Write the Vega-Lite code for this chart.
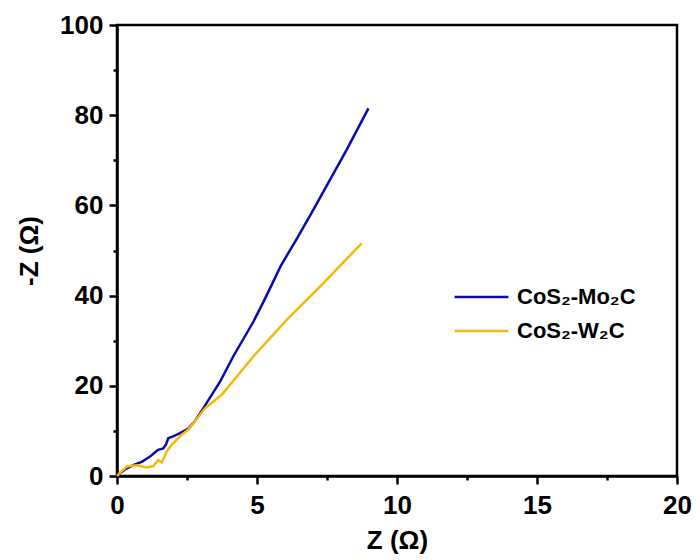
{
  "$schema": "https://vega.github.io/schema/vega-lite/v6.json",
  "width": 560,
  "height": 451,
  "autosize": {"type": "none"},
  "padding": {"left": 117, "top": 25, "right": 23, "bottom": 84},
  "background": "white",
  "config": {
    "font": "Liberation Sans",
    "view": {"stroke": "black", "strokeWidth": 2.5},
    "axis": {
      "domainColor": "black", "domainWidth": 2.5,
      "tickColor": "black", "tickWidth": 2.5,
      "grid": false,
      "labelFont": "Liberation Sans", "labelFontWeight": "bold", "labelFontSize": 26, "labelColor": "black",
      "titleFont": "Liberation Sans", "titleFontWeight": "bold", "titleFontSize": 26, "titleColor": "black"
    }
  },
  "data": {"values": [
    {"s": "CoS₂-Mo₂C", "x": 0.0, "y": 0.0},
    {"s": "CoS₂-Mo₂C", "x": 0.1, "y": 0.6},
    {"s": "CoS₂-Mo₂C", "x": 0.3, "y": 1.5},
    {"s": "CoS₂-Mo₂C", "x": 0.58, "y": 2.4},
    {"s": "CoS₂-Mo₂C", "x": 0.9, "y": 3.2},
    {"s": "CoS₂-Mo₂C", "x": 1.18, "y": 4.3},
    {"s": "CoS₂-Mo₂C", "x": 1.35, "y": 5.2},
    {"s": "CoS₂-Mo₂C", "x": 1.47, "y": 5.8},
    {"s": "CoS₂-Mo₂C", "x": 1.65, "y": 6.1},
    {"s": "CoS₂-Mo₂C", "x": 1.75, "y": 7.0},
    {"s": "CoS₂-Mo₂C", "x": 1.83, "y": 8.4},
    {"s": "CoS₂-Mo₂C", "x": 2.0, "y": 8.8},
    {"s": "CoS₂-Mo₂C", "x": 2.25, "y": 9.5},
    {"s": "CoS₂-Mo₂C", "x": 2.55, "y": 10.5},
    {"s": "CoS₂-Mo₂C", "x": 2.8, "y": 12.3},
    {"s": "CoS₂-Mo₂C", "x": 3.08, "y": 15.0},
    {"s": "CoS₂-Mo₂C", "x": 3.68, "y": 20.9},
    {"s": "CoS₂-Mo₂C", "x": 4.15, "y": 26.5},
    {"s": "CoS₂-Mo₂C", "x": 4.87, "y": 34.2},
    {"s": "CoS₂-Mo₂C", "x": 5.23, "y": 38.6},
    {"s": "CoS₂-Mo₂C", "x": 5.58, "y": 43.1},
    {"s": "CoS₂-Mo₂C", "x": 5.85, "y": 46.6},
    {"s": "CoS₂-Mo₂C", "x": 6.42, "y": 52.6},
    {"s": "CoS₂-Mo₂C", "x": 7.01, "y": 59.0},
    {"s": "CoS₂-Mo₂C", "x": 8.2, "y": 72.3},
    {"s": "CoS₂-Mo₂C", "x": 8.98, "y": 81.5},
    {"s": "CoS₂-W₂C", "x": 0.0, "y": 0.0},
    {"s": "CoS₂-W₂C", "x": 0.15, "y": 1.0},
    {"s": "CoS₂-W₂C", "x": 0.35, "y": 2.1},
    {"s": "CoS₂-W₂C", "x": 0.7, "y": 2.4},
    {"s": "CoS₂-W₂C", "x": 1.06, "y": 1.9},
    {"s": "CoS₂-W₂C", "x": 1.3, "y": 2.2},
    {"s": "CoS₂-W₂C", "x": 1.47, "y": 3.5},
    {"s": "CoS₂-W₂C", "x": 1.6, "y": 3.0},
    {"s": "CoS₂-W₂C", "x": 1.77, "y": 5.4},
    {"s": "CoS₂-W₂C", "x": 1.95, "y": 6.9},
    {"s": "CoS₂-W₂C", "x": 2.3, "y": 9.1},
    {"s": "CoS₂-W₂C", "x": 2.55, "y": 10.3},
    {"s": "CoS₂-W₂C", "x": 3.14, "y": 15.0},
    {"s": "CoS₂-W₂C", "x": 3.74, "y": 18.0},
    {"s": "CoS₂-W₂C", "x": 4.87, "y": 26.5},
    {"s": "CoS₂-W₂C", "x": 6.06, "y": 34.6},
    {"s": "CoS₂-W₂C", "x": 7.25, "y": 42.0},
    {"s": "CoS₂-W₂C", "x": 8.74, "y": 51.6}
  ]},
  "mark": {"type": "line", "strokeWidth": 2.5},
  "encoding": {
    "x": {
      "field": "x", "type": "quantitative",
      "scale": {"domain": [0, 20], "nice": false},
      "axis": {
        "title": "Z (Ω)",
        "values": [0, 2.5, 5, 7.5, 10, 12.5, 15, 17.5, 20],
        "labelExpr": "datum.value % 5 === 0 ? datum.label : ''",
        "tickSize": {"condition": {"test": "datum.value % 5 === 0", "value": 8}, "value": 4},
        "labelPadding": 8,
        "titlePadding": 9,
        "labelFlush": false,
        "labelOverlap": false
      }
    },
    "y": {
      "field": "y", "type": "quantitative",
      "scale": {"domain": [0, 100], "nice": false},
      "axis": {
        "title": "-Z (Ω)",
        "values": [0, 10, 20, 30, 40, 50, 60, 70, 80, 90, 100],
        "labelExpr": "datum.value % 20 === 0 ? datum.label : ''",
        "tickSize": {"condition": {"test": "datum.value % 20 === 0", "value": 8}, "value": 4},
        "labelPadding": 6,
        "titlePadding": 17,
        "labelFlush": false,
        "labelOverlap": false
      }
    },
    "color": {
      "field": "s", "type": "nominal",
      "scale": {"domain": ["CoS₂-Mo₂C", "CoS₂-W₂C"], "range": ["#0a0ab0", "#f7b80a"]},
      "legend": {
        "title": null,
        "orient": "none",
        "legendX": 336,
        "legendY": 257,
        "symbolType": "stroke",
        "symbolSize": 2900,
        "symbolStrokeWidth": 2.5,
        "clipHeight": 30,
        "labelFont": "Liberation Sans",
        "labelFontSize": 22,
        "labelFontWeight": "bold",
        "labelColor": "black",
        "rowPadding": 4,
        "labelOffset": 7
      }
    },
    "order": {"field": "x", "type": "quantitative"}
  }
}
